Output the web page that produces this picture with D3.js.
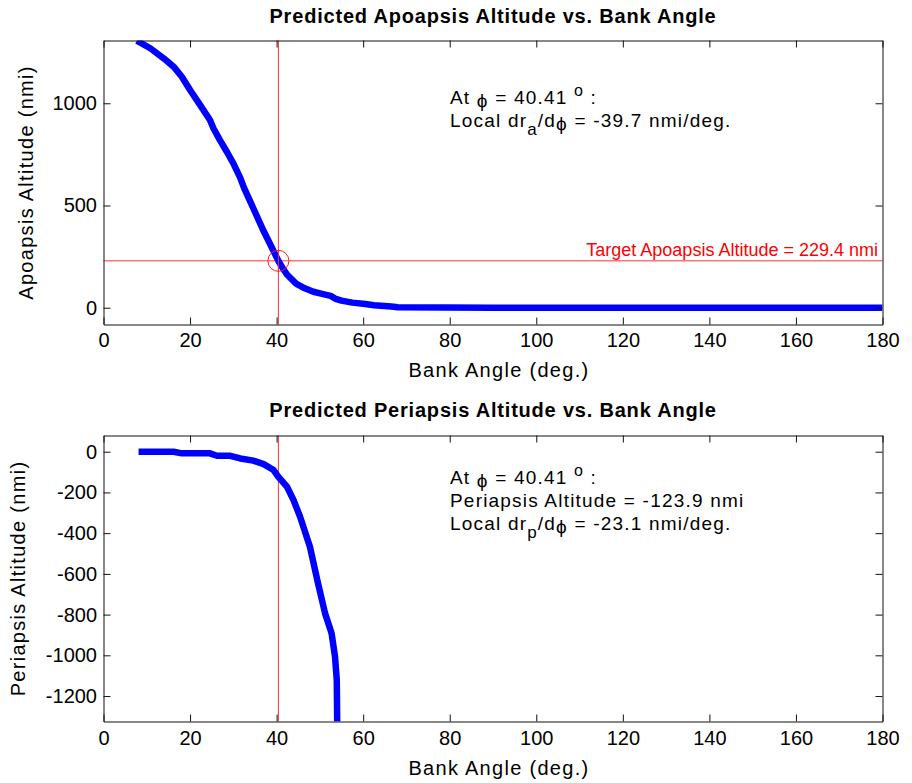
<!DOCTYPE html>
<html>
<head>
<meta charset="utf-8">
<script src="https://cdn.jsdelivr.net/npm/d3@7"></script>
<style>
  html, body { margin: 0; padding: 0; background: #fff; }
  svg { display: block; font-family: "Liberation Sans", Arial, Helvetica, sans-serif; }
</style>
</head>
<body>
<svg id="chart" width="912" height="783"></svg>
<script>
// ---------- data ----------
const apoBank = [7.7, 10.8, 13.9, 16.2, 18.1, 20.0, 22.3, 24.6, 25.4, 26.9, 28.5, 30.0, 31.6, 32.5, 34.0, 35.5, 37.0, 39.0, 40.41, 41.5, 42.5, 44.5, 46.5, 48.5, 50.5, 52.5, 53.5, 55.0, 57.5, 60.5, 62.5, 66.5, 68.0, 90, 120, 150, 180];
const apoAlt  = [1306, 1269, 1220, 1179, 1130, 1065, 992, 918, 878, 820, 763, 706, 635, 585, 515, 445, 375, 290, 229.4, 190, 160, 118, 95, 78, 68, 58, 45, 35, 25, 18, 12, 6, 2, 0, 0, 0, 0];

const periBank = [8.1, 12, 16.2, 18.1, 21, 24.6, 26.2, 29.3, 31.6, 34.6, 37.0, 39.3, 40.41, 42.4, 43.9, 45.4, 47.7, 49.5, 51.2, 52.7, 53.5, 53.9, 54.0];
const periAlt  = [0, 0, 0, -8, -8, -8, -20, -20, -33, -44, -61, -90, -123.9, -172, -237, -318, -467, -640, -794, -892, -1007, -1121, -1326];

const xTicks = [0, 20, 40, 60, 80, 100, 120, 140, 160, 180];
const apoTicks = [0, 500, 1000];
const periTicks = [0, -200, -400, -600, -800, -1000, -1200];

const bankTarget = 40.41;
const apoTarget = 229.4;
const periAtTarget = -123.9;

const titles = ["Predicted Apoapsis Altitude vs. Bank Angle", "Predicted Periapsis Altitude vs. Bank Angle"];
const yLabels = ["Apoapsis Altitude (nmi)", "Periapsis Altitude (nmi)"];
const xLabel = "Bank Angle (deg.)";

// ---------- drawing ----------
const svg = d3.select("#chart");
const L = 103.5, R = 882.5;
const x = d3.scaleLinear().domain([0, 180]).range([L, R]);
const fmt = d => String(d);

function panel(opts) {
  const { top, bottom, yDomain, yTicks, bank, alt, title, titleY, yLabel, yLabelX, id } = opts;
  const y = d3.scaleLinear().domain(yDomain).range([bottom, top]);
  const g = svg.append("g");

  g.append("defs").append("clipPath").attr("id", id)
    .append("rect").attr("x", L).attr("y", top).attr("width", R - L).attr("height", bottom - top);

  // red reference lines
  g.append("line").attr("x1", x(bankTarget)).attr("x2", x(bankTarget))
    .attr("y1", top).attr("y2", bottom).attr("stroke", "#ff3030").attr("stroke-width", 1);

  if (opts.target) {
    g.append("line").attr("x1", L).attr("x2", R)
      .attr("y1", y(apoTarget)).attr("y2", y(apoTarget))
      .attr("stroke", "#ff3030").attr("stroke-width", 1);
  }

  // curve
  const pts = bank.map((b, i) => [b, alt[i]]);
  g.append("path").datum(pts)
    .attr("clip-path", `url(#${id})`)
    .attr("fill", "none").attr("stroke", "#0000ff").attr("stroke-width", 6.5)
    .attr("stroke-linejoin", "round")
    .attr("d", d3.line().x(d => x(d[0])).y(d => y(d[1])));

  if (opts.target) {
    g.append("circle").attr("cx", x(bankTarget)).attr("cy", y(apoTarget)).attr("r", 10.5)
      .attr("fill", "none").attr("stroke", "#ff2020").attr("stroke-width", 1);
    g.append("line").attr("x1", x(bankTarget)).attr("x2", x(bankTarget))
      .attr("y1", y(apoTarget) - 10.5).attr("y2", y(apoTarget) + 10.5)
      .attr("stroke", "#ff3030").attr("stroke-width", 1);
    g.append("text").attr("x", 878).attr("y", y(apoTarget) - 4.5)
      .attr("text-anchor", "end").attr("font-size", 18).attr("fill", "#ff0000")
      .text(`Target Apoapsis Altitude = ${apoTarget} nmi`);
  }

  // axes
  const ax = d3.axisBottom(x).tickValues(xTicks).tickSize(-7).tickSizeOuter(0).tickPadding(opts.xPad).tickFormat(fmt);
  const axTop = d3.axisTop(x).tickValues(xTicks).tickSize(-7).tickSizeOuter(0).tickFormat("");
  const ay = d3.axisLeft(y).tickValues(yTicks).tickSize(-7).tickSizeOuter(0).tickPadding(6.5).tickFormat(fmt);
  const ayR = d3.axisRight(y).tickValues(yTicks).tickSize(-7).tickSizeOuter(0).tickFormat("");

  const styleAxis = sel => {
    sel.selectAll("path, line").attr("stroke", "#111").attr("stroke-width", 1);
    sel.selectAll("text").attr("font-size", 20).attr("fill", "#000")
      .style("font-family", '"Liberation Sans", Arial, sans-serif');
  };
  g.append("g").attr("transform", `translate(0,${bottom})`).call(ax).call(styleAxis);
  g.append("g").attr("transform", `translate(0,${top})`).call(axTop).call(styleAxis);
  g.append("g").attr("transform", `translate(${L},0)`).call(ay).call(styleAxis);
  g.append("g").attr("transform", `translate(${R},0)`).call(ayR).call(styleAxis);
  g.selectAll(".domain").attr("stroke", "#111");

  // title & labels
  g.append("text").attr("x", (L + R) / 2).attr("y", titleY).attr("text-anchor", "middle")
    .attr("font-size", 20).attr("font-weight", "bold").attr("letter-spacing", 0.8).text(title);
  g.append("text").attr("x", (L + R) / 2 + 6).attr("y", opts.xLabelY).attr("text-anchor", "middle")
    .attr("font-size", 20).attr("letter-spacing", 1.3).text(xLabel);
  g.append("text").attr("transform", `translate(${yLabelX},${(top + bottom) / 2}) rotate(-90)`)
    .attr("text-anchor", "middle").attr("font-size", 20).attr("letter-spacing", 1.3).text(yLabel);

  return y;
}

panel({ id: "c1", top: 40.5, bottom: 324.5, yDomain: [-82, 1307], yTicks: apoTicks,
  bank: apoBank, alt: apoAlt, title: titles[0], titleY: 23, yLabel: yLabels[0], yLabelX: 33,
  xPad: 8.5, xLabelY: 376.5, target: true });
panel({ id: "c2", top: 435.5, bottom: 721.5, yDomain: [-1325, 79.6], yTicks: periTicks,
  bank: periBank, alt: periAlt, title: titles[1], titleY: 416.7, yLabel: yLabels[1], yLabelX: 25,
  xPad: 9.5, xLabelY: 775, target: false });

// annotations (TeX-like)
function annot(x0, y0, lines) {
  const t = svg.append("text").attr("x", x0).attr("y", y0).attr("font-size", 19).attr("letter-spacing", 1.2);
  lines.forEach((parts, li) => {
    parts.forEach((p, pi) => {
      const ts = t.append("tspan").text(p.t);
      if (pi === 0) ts.attr("x", x0).attr("y", y0 + li * 22.8);
      if (p.dy) ts.attr("dy", p.dy);
      if (p.fs) ts.attr("font-size", p.fs);
    });
  });
}
const phi = "\u03D5";
annot(450, 104, [
  [{ t: "At " }, { t: phi, dy: 3 }, { t: ` = ${bankTarget} `, dy: -3 }, { t: "o", dy: -8, fs: 16 }, { t: " :", dy: 8 }],
  [{ t: "Local dr" }, { t: "a", dy: 8, fs: 17 }, { t: "/d", dy: -8 }, { t: phi, dy: 3 }, { t: " = -39.7 nmi/deg.", dy: -3 }]
]);
annot(450, 484, [
  [{ t: "At " }, { t: phi, dy: 3 }, { t: ` = ${bankTarget} `, dy: -3 }, { t: "o", dy: -8, fs: 16 }, { t: " :", dy: 8 }],
  [{ t: `Periapsis Altitude = ${periAtTarget} nmi` }],
  [{ t: "Local dr" }, { t: "p", dy: 8, fs: 17 }, { t: "/d", dy: -8 }, { t: phi, dy: 3 }, { t: " = -23.1 nmi/deg.", dy: -3 }]
]);
</script>
</body>
</html>
